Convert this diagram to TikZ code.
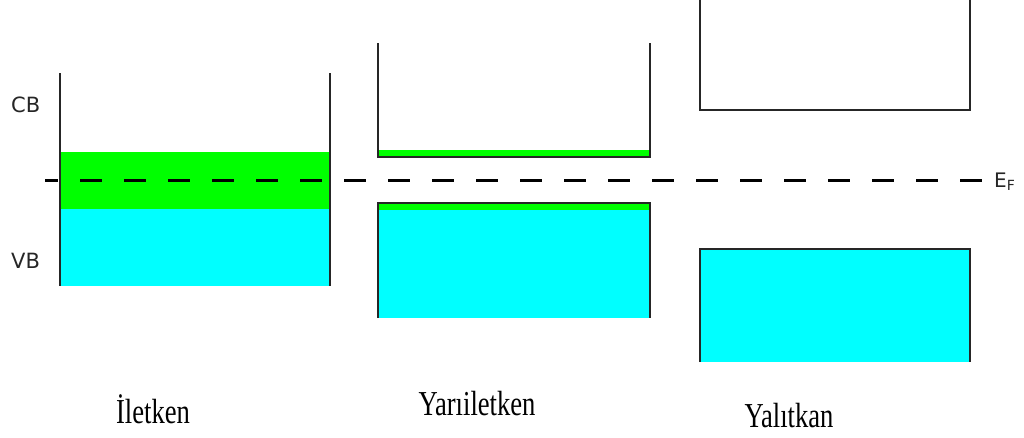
\documentclass[tikz,border=0pt]{standalone}
\usepackage{fontspec}
\setmainfont{Liberation Serif}
\setsansfont{DejaVu Sans}
\usetikzlibrary{positioning}
\definecolor{band-green}{HTML}{00FF00}
\definecolor{band-cyan}{HTML}{00FFFF}

\begin{document}
\begin{tikzpicture}[x=1pt, y=-1pt,
    wall/.style={draw=black!85, line width=2.8pt},
    fermi/.style={black, line width=3pt, dash pattern=on 22pt off 22pt, dash phase=9pt},
    bandlabel/.style={font=\sffamily\fontsize{21}{21}\selectfont, text=black!85, anchor=base west},
    matlabel/.style={font=\fontsize{35}{35}\selectfont, anchor=base},
]
    \useasboundingbox (0,0) rectangle (1024,437);

    % Conductor: bands overlap
    \fill[band-green] (60,152) rectangle (330,209);
    \fill[band-cyan]  (60,209) rectangle (330,286);
    \draw[wall] (60,73) -- (60,286);
    \draw[wall] (330,73) -- (330,286);

    % Semiconductor: small gap
    \fill[band-green] (378,150) rectangle (650,157);
    \draw[wall] (378,43) -- (378,157) -- (650,157) -- (650,43);
    \fill[band-cyan]  (378,203) rectangle (650,318);
    \fill[band-green] (378,203) rectangle (650,210);
    \draw[wall] (378,318) -- (378,203) -- (650,203) -- (650,318);

    % Insulator: wide gap
    \draw[wall] (700,0) -- (700,110) -- (970,110) -- (970,0);
    \fill[band-cyan] (700,249) rectangle (970,362);
    \draw[wall] (700,362) -- (700,249) -- (970,249) -- (970,362);

    % Fermi level
    \coordinate (ef-start) at (45,180);
    \coordinate (ef-end)   at (984,180);
    \draw[fermi] (ef-start) -- (ef-end);
    \node[bandlabel, font=\sffamily\fontsize{20}{20}\selectfont, inner sep=0pt]
        (ef) at (994,187) {E\textsubscript{F}};

    % Band names
    \node[bandlabel, inner sep=0pt] (cb) at (11,112) {CB};
    \node[bandlabel, inner sep=0pt] (vb) at (11,268) {VB};

    % Material names
    \node[matlabel] (iletken)     at (153,423) {\scalebox{0.76}[1]{İletken}};
    \node[matlabel] (yariiletken) at (477,415) {\scalebox{0.76}[1]{Yarıiletken}};
    \node[matlabel] (yalitkan)    at (789,427) {\scalebox{0.76}[1]{Yalıtkan}};
\end{tikzpicture}
\end{document}
